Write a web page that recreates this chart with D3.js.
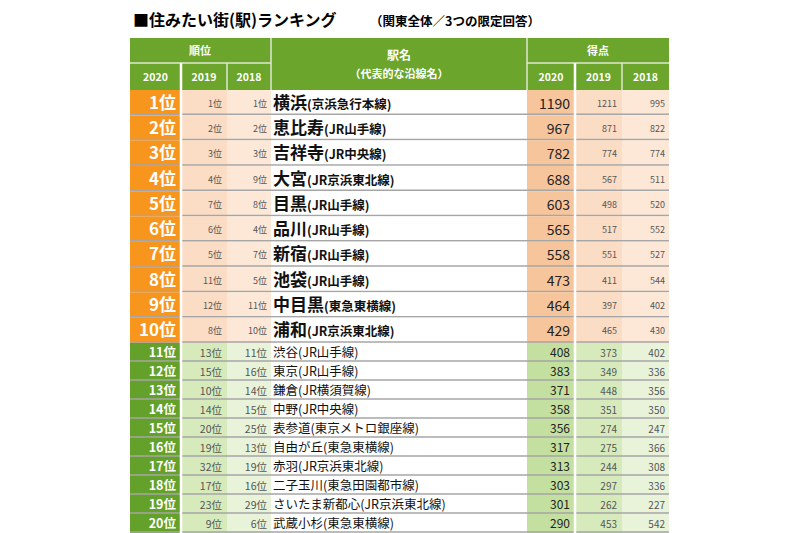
<!DOCTYPE html>
<html><head><meta charset="utf-8">
<script src="https://cdn.jsdelivr.net/npm/d3@7"></script>
<style>body{margin:0;background:#fff}text{font-family:"Noto Sans CJK JP",sans-serif}</style>
</head><body><svg id="c" width="800" height="533"></svg>
<script>
const ranks2020 = d3.range(1, 21);
const ranks2019 = [1, 2, 3, 4, 7, 6, 5, 11, 12, 8, 13, 15, 10, 14, 20, 19, 32, 17, 23, 9];
const ranks2018 = [1, 2, 3, 9, 8, 4, 7, 5, 11, 10, 11, 16, 14, 15, 25, 13, 19, 16, 29, 6];
const stations = ['横浜', '恵比寿', '吉祥寺', '大宮', '目黒', '品川', '新宿', '池袋', '中目黒', '浦和',
  '渋谷', '東京', '鎌倉', '中野', '表参道', '自由が丘', '赤羽', '二子玉川', 'さいたま新都心', '武蔵小杉'];
const lines = ['京浜急行本線', 'JR山手線', 'JR中央線', 'JR京浜東北線', 'JR山手線', 'JR山手線', 'JR山手線', 'JR山手線', '東急東横線', 'JR京浜東北線',
  'JR山手線', 'JR山手線', 'JR横須賀線', 'JR中央線', '東京メトロ銀座線', '東急東横線', 'JR京浜東北線', '東急田園都市線', 'JR京浜東北線', '東急東横線'];
const score2020 = [1190, 967, 782, 688, 603, 565, 558, 473, 464, 429, 408, 383, 371, 358, 356, 317, 313, 303, 301, 290];
const score2019 = [1211, 871, 774, 567, 498, 517, 551, 411, 397, 465, 373, 349, 448, 351, 274, 275, 244, 297, 262, 453];
const score2018 = [995, 822, 774, 511, 520, 552, 527, 544, 402, 430, 402, 336, 356, 350, 247, 366, 308, 336, 227, 542];
const yearLabels = ['2020', '2019', '2018'];

const svg = d3.select('#c');
const colEdges = [130, 181, 227, 271, 527, 575, 622, 669];
const topRows = d3.range(10), bottomRows = d3.range(10, 20);
const yTop = d3.scaleBand().domain(topRows).range([90, 343]);
const yBot = d3.scaleBand().domain(bottomRows).range([343, 533]);
const y = i => i < 10 ? yTop(i) : yBot(i);
const h = i => i < 10 ? yTop.bandwidth() : yBot.bandwidth();
const green = '#6ba52b';

// title
svg.append('text').attr('x', 133).attr('y', 26).attr('font-size', 16).attr('font-weight', 'bold')
  .text('■住みたい街(駅)ランキング');
svg.append('text').attr('x', 370).attr('y', 26).attr('font-size', 12.5).attr('font-weight', 'bold')
  .text('（関東全体／3つの限定回答）');

// header
const hd = svg.append('g');
hd.append('rect').attr('x', 130).attr('y', 38).attr('width', 539).attr('height', 52).attr('fill', green);
const hline = (x1, y1, x2, y2) => hd.append('line').attr('x1', x1).attr('y1', y1).attr('x2', x2).attr('y2', y2)
  .attr('stroke', '#dfe9d2').attr('stroke-width', 1.5);
hline(130, 63, 271, 63); hline(527, 63, 669, 63);
hline(271, 38, 271, 90); hline(527, 38, 527, 90);
[181, 227, 575, 622].forEach(x => hline(x, 63, x, 90));
const ht = (x, yy, s, fs) => hd.append('text').attr('x', x).attr('y', yy).attr('text-anchor', 'middle')
  .attr('fill', '#fff').attr('font-weight', 'bold').attr('font-size', fs).text(s);
ht(200, 55, '順位', 11); ht(598, 55, '得点', 11);
ht(399, 60, '駅名', 12); ht(399, 78, '（代表的な沿線名）', 11);
yearLabels.forEach((s, k) => {
  ht((colEdges[k] + colEdges[k + 1]) / 2, 81, s, 10.5);
  ht((colEdges[k + 4] + colEdges[k + 5]) / 2, 81, s, 10.5);
});

// rows
const rows = svg.append('g').selectAll('g').data(ranks2020.map((r, i) => i)).join('g');
const fills = i => i < 10
  ? ['#f8951d', '#fbdcc4', '#fde8d8', '#ffffff', '#f7c59b', '#fbdcc4', '#fde8d8']
  : ['#63a12b', '#d7eabc', '#e8f3da', '#ffffff', '#c4e0a0', '#d7eabc', '#e8f3da'];
for (let k = 0; k < 7; k++) {
  rows.append('rect').attr('x', colEdges[k]).attr('y', i => y(i))
    .attr('width', colEdges[k + 1] - colEdges[k]).attr('height', i => h(i))
    .attr('fill', i => fills(i)[k]);
}
rows.append('line').attr('x1', 130).attr('x2', 669).attr('y1', i => y(i) + h(i) - 1).attr('y2', i => y(i) + h(i) - 1)
  .attr('stroke', '#a6a6a6').attr('stroke-width', 1.5);
// white separators
[181, 575].forEach(x => svg.append('line').attr('x1', x).attr('x2', x).attr('y1', 63).attr('y2', 533)
  .attr('stroke', '#fff').attr('stroke-width', 2.5));

const cy = i => y(i) + h(i) / 2 + (i < 10 ? 6 : 4.5);
rows.append('text').attr('x', 176).attr('y', cy).attr('text-anchor', 'end').attr('fill', '#fff')
  .attr('font-weight', 'bold').attr('font-size', i => i < 10 ? 17 : 12.5).text(i => ranks2020[i] + '位');
rows.append('text').attr('x', 222).attr('y', i => cy(i) - (i < 10 ? 2 : 0)).attr('text-anchor', 'end').attr('fill', '#555')
  .attr('font-size', i => i < 10 ? 9 : 10.5).text(i => ranks2019[i] + '位');
rows.append('text').attr('x', 267).attr('y', i => cy(i) - (i < 10 ? 2 : 0)).attr('text-anchor', 'end').attr('fill', '#555')
  .attr('font-size', i => i < 10 ? 9 : 10.5).text(i => ranks2018[i] + '位');
const st = rows.append('text').attr('x', 273).attr('y', cy).attr('fill', '#111');
st.append('tspan').attr('font-weight', i => i < 10 ? 'bold' : 'normal').attr('font-size', i => i < 10 ? 17 : 12.5).text(i => stations[i]);
st.append('tspan').attr('font-weight', i => i < 10 ? 'bold' : 'normal').attr('font-size', 12.5).text(i => '(' + lines[i] + ')');
rows.append('text').attr('x', 570).attr('y', cy).attr('text-anchor', 'end').attr('fill', '#222')
  .attr('font-size', i => i < 10 ? 14 : 12).text(i => score2020[i]);
rows.append('text').attr('x', 617).attr('y', i => cy(i) - (i < 10 ? 2 : 0)).attr('text-anchor', 'end').attr('fill', '#555')
  .attr('font-size', i => i < 10 ? 9 : 10).text(i => score2019[i]);
rows.append('text').attr('x', 665).attr('y', i => cy(i) - (i < 10 ? 2 : 0)).attr('text-anchor', 'end').attr('fill', '#555')
  .attr('font-size', i => i < 10 ? 9 : 10).text(i => score2018[i]);
</script></body></html>
